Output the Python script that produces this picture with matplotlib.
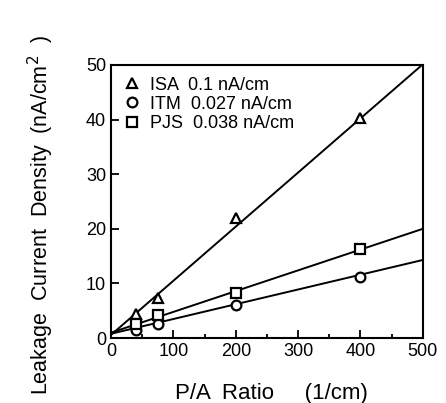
import matplotlib

matplotlib.use("Agg")
import matplotlib.pyplot as plt
import numpy as np
from matplotlib.ticker import MultipleLocator

plt.rcParams["font.family"] = ["Liberation Sans", "DejaVu Sans"]

pa_ratio = [40, 75, 200, 400]
isa = [4.5, 7.3, 22.0, 40.2]
itm = [1.5, 2.6, 6.0, 11.2]
pjs = [2.6, 4.2, 8.2, 16.3]

fits = {
    "ISA": (0.099, 0.6),
    "ITM": (0.027, 0.8),
    "PJS": (0.038, 1.0),
}
labels = ["ISA  0.1 nA/cm", "ITM  0.027 nA/cm", "PJS  0.038 nA/cm"]

fig = plt.figure(figsize=(4.46, 4.03), dpi=100)
ax = fig.add_axes([0.249, 0.161, 0.699, 0.678])

xx = np.linspace(0, 500, 50)
for name, (slope, icpt) in fits.items():
    ax.plot(xx, slope * xx + icpt, color="black", lw=1.4)

mk = dict(mfc="white", mec="black", mew=1.6, ms=7, ls="none")
ax.plot(pa_ratio, isa, marker="^", label=labels[0], **mk)
ax.plot(pa_ratio, itm, marker="o", label=labels[1], **mk)
ax.plot(pa_ratio, pjs, marker="s", label=labels[2], **mk)

ax.set_xlim(0, 500)
ax.set_ylim(0, 50)
ax.xaxis.set_major_locator(MultipleLocator(100))
ax.xaxis.set_minor_locator(MultipleLocator(50))
ax.yaxis.set_major_locator(MultipleLocator(10))
ax.tick_params(which="both", direction="in", top=False, right=False,
               labelsize=13, width=1.3)
ax.tick_params(which="major", length=6)
ax.tick_params(which="minor", length=3)
for sp in ax.spines.values():
    sp.set_linewidth(1.5)

ax.set_xlabel("P/A  Ratio     (1/cm)", fontsize=16)
ax.xaxis.set_label_coords(0.515, -0.165)
ax.set_ylabel(r"Leakage  Current  Density  (nA/cm$^{2}$  )", fontsize=15.5)
ax.yaxis.set_label_coords(-0.175, 0.45)

leg = ax.legend(loc="upper left", frameon=False, fontsize=13,
                handletextpad=0.5, handlelength=1.0, labelspacing=0.12,
                borderaxespad=0.15, borderpad=0.5)

fig.savefig("out.png", dpi=100)
